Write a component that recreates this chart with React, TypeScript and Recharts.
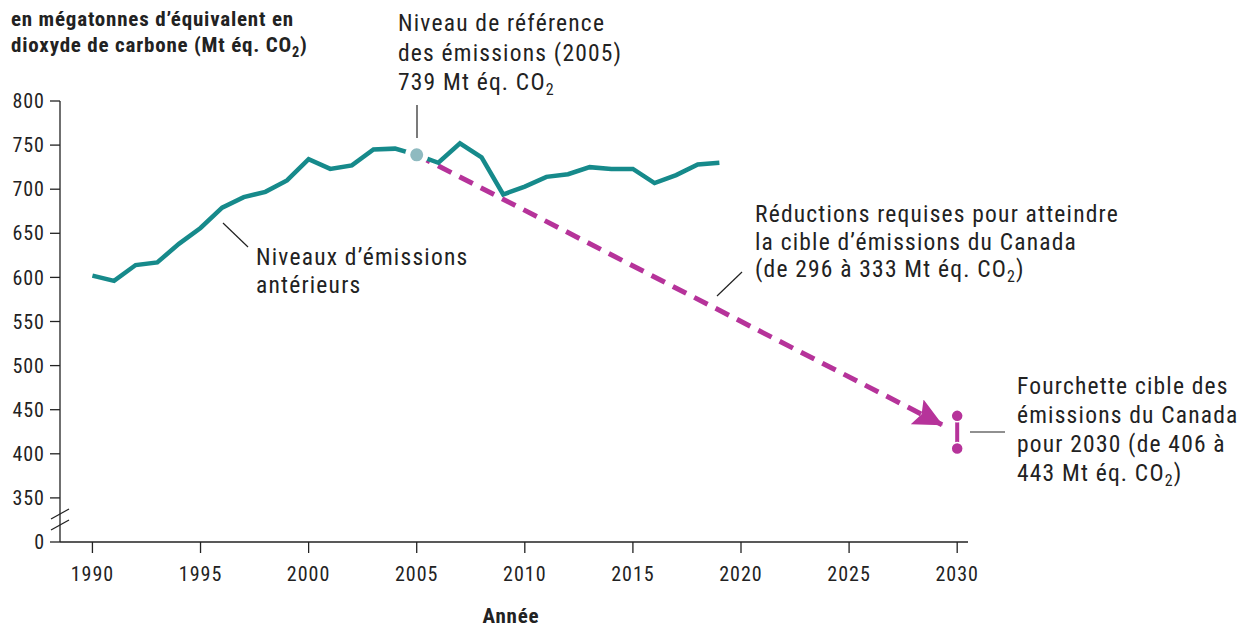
import React from 'react';
import { LineChart, Line, XAxis, YAxis, ReferenceDot, Customized } from 'recharts';

const years = [1990, 1991, 1992, 1993, 1994, 1995, 1996, 1997, 1998, 1999, 2000, 2001, 2002, 2003, 2004, 2005, 2006, 2007, 2008, 2009, 2010, 2011, 2012, 2013, 2014, 2015, 2016, 2017, 2018, 2019];
const emissions = [602, 596, 614, 617, 638, 656, 679, 691, 697, 710, 734, 723, 727, 745, 746, 739, 730, 752, 736, 694, 703, 714, 717, 725, 723, 723, 707, 716, 728, 730];
const pathYears = [2005, 2029.3];
const pathValues = [739, 433];
const targetYears = [2030, 2030];
const targetValues = [406, 443];
const xTicks = [1990, 1995, 2000, 2005, 2010, 2015, 2020, 2025, 2030];
const yTicks = [300, 350, 400, 450, 500, 550, 600, 650, 700, 750, 800];
const baseYear = 2005;
const baseValue = 739;

const histData = years.map((y, i) => ({ year: y, v: emissions[i] }));
const pathData = pathYears.map((y, i) => ({ year: y, v: pathValues[i] }));
const targetData = targetYears.map((y, i) => ({ year: y, v: targetValues[i] }));

const TEAL = '#168a8b';
const MAGENTA = '#b6339a';
const DOT = '#8fbac0';
const INK = '#222222';
const FONT = "'Roboto Condensed', 'Roboto', sans-serif";
const ANN = 23.5;
const LS = 1.2;

const Sub = ({ children }: { children: string }) => (
  <>
    <tspan fontSize="0.68em" dy={5}>{children}</tspan>
    <tspan dy={-5}>)</tspan>
  </>
);

const Annotations = () => (
  <g fontFamily={FONT} fill={INK}>
    {/* y-axis break */}
    <rect x={56} y={509} width={8} height={16} fill="#fff" />
    <line x1={51} y1={519} x2={69} y2={509} stroke={INK} strokeWidth={1.3} />
    <line x1={51} y1={530} x2={69} y2={520} stroke={INK} strokeWidth={1.3} />
    {/* title */}
    <g fontSize={21} fontWeight={700} letterSpacing={0.8}>
      <text x={11} y={26}>en mégatonnes d’équivalent en</text>
      <text x={11} y={52}>
        dioxyde de carbone (Mt éq. CO<Sub>2</Sub>
      </text>
    </g>
    <g fontSize={ANN} letterSpacing={LS}>
      {/* baseline annotation */}
      <line x1={417} y1={105} x2={417} y2={138} stroke={INK} strokeWidth={1.2} />
      <text x={398} y={31}>Niveau de référence</text>
      <text x={398} y={60.5}>des émissions (2005)</text>
      <text x={398} y={90}>
        739 Mt éq. CO<tspan fontSize="0.68em" dy={5}>2</tspan>
      </text>
      {/* past levels */}
      <line x1={223} y1={223} x2={248} y2={247} stroke={INK} strokeWidth={1.2} />
      <text x={256} y={265}>Niveaux d’émissions</text>
      <text x={256} y={293}>antérieurs</text>
      {/* reductions */}
      <line x1={717} y1={296} x2={742} y2={272} stroke={INK} strokeWidth={1.2} />
      <text x={755} y={222}>Réductions requises pour atteindre</text>
      <text x={755} y={249.5}>la cible d’émissions du Canada</text>
      <text x={755} y={277}>
        (de 296 à 333 Mt éq. CO<Sub>2</Sub>
      </text>
      {/* target */}
      <line x1={970} y1={432} x2={1005} y2={432} stroke={INK} strokeWidth={1.2} />
      <text x={1017} y={394}>Fourchette cible des</text>
      <text x={1017} y={423}>émissions du Canada</text>
      <text x={1017} y={452}>pour 2030 (de 406 à</text>
      <text x={1017} y={481}>
        443 Mt éq. CO<Sub>2</Sub>
      </text>
    </g>
    {/* x-axis title */}
    <text x={511} y={623} fontSize={21} fontWeight={700} letterSpacing={0.8} textAnchor="middle">Année</text>
  </g>
);

export default function App() {
  return (
    <div style={{ position: 'absolute', left: 0, top: 0, width: 1245, height: 628, background: '#fff' }}>
      <svg width={0} height={0} style={{ position: 'absolute' }}>
        <defs>
          <marker id="arrowHead" markerUnits="userSpaceOnUse" markerWidth={32} markerHeight={32} refX={28} refY={14} orient="auto">
            <path d="M0,0 L29,14 L0,28 L5,14 Z" fill={MAGENTA} />
          </marker>
        </defs>
      </svg>
      <LineChart width={1245} height={628} margin={{ top: 101, right: 277, bottom: 0, left: 0 }}>
        <XAxis
          dataKey="year"
          type="number"
          domain={[1988.5, 2030.5]}
          ticks={xTicks}
          allowDataOverflow
          height={86}
          tickSize={11}
          tickMargin={14}
          stroke={INK}
          strokeWidth={1.3}
          tick={{ fill: INK, fontSize: 20, fontFamily: FONT, letterSpacing: 1 }}
        />
        <YAxis
          type="number"
          domain={[300, 800]}
          ticks={yTicks}
          allowDataOverflow
          width={60}
          tickSize={10}
          tickMargin={5}
          stroke={INK}
          strokeWidth={1.3}
          tickFormatter={(v: number) => (v === 300 ? '0' : String(v))}
          tick={{ fill: INK, fontSize: 20, fontFamily: FONT, letterSpacing: 1 }}
        />
        <Line
          data={pathData}
          dataKey="v"
          type="linear"
          stroke={MAGENTA}
          strokeWidth={5}
          strokeDasharray="15 9"
          dot={false}
          markerEnd="url(#arrowHead)"
          isAnimationActive={false}
        />
        <Line
          data={histData}
          dataKey="v"
          type="linear"
          stroke={TEAL}
          strokeWidth={4.5}
          dot={false}
          isAnimationActive={false}
        />
        <Line
          data={targetData}
          dataKey="v"
          type="linear"
          stroke={MAGENTA}
          strokeWidth={4}
          dot={{ r: 6, fill: MAGENTA, stroke: '#fff', strokeWidth: 1.5 }}
          isAnimationActive={false}
        />
        <ReferenceDot x={baseYear} y={baseValue} r={9} fill={DOT} stroke="#fff" strokeWidth={5} />
        <Customized component={<Annotations />} />
      </LineChart>
    </div>
  );
}
